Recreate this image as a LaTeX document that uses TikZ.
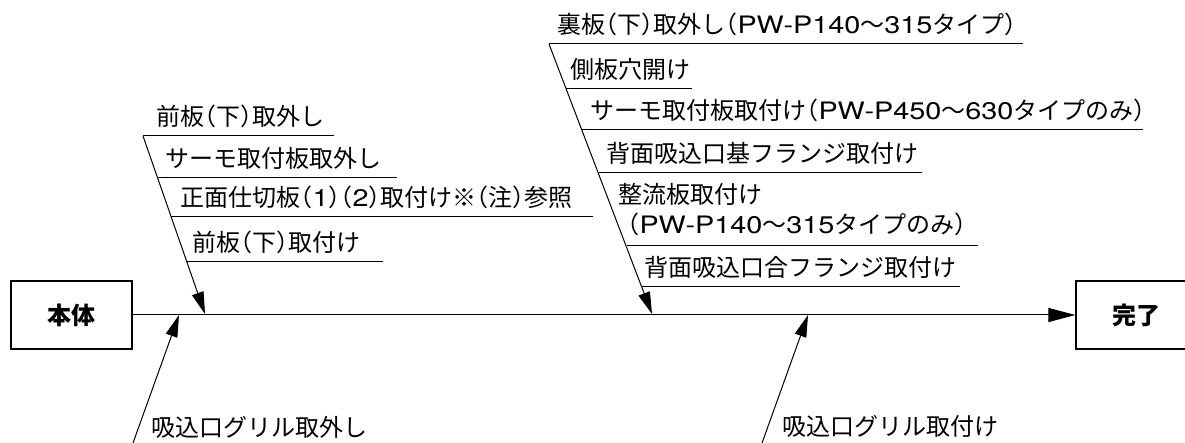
\documentclass[tikz,border=0pt]{standalone}
\usepackage{fontspec}
\setmainfont{Noto Sans CJK JP}[RawFeature=+halt]
\newfontfamily\latfont{TeX Gyre Heros}[FakeStretch=1.2]
\newcommand\lat[1]{{\latfont #1}}
\usetikzlibrary{arrows.meta}

\begin{document}
\begin{tikzpicture}[x=1pt, y=-1pt, line width=1pt,
    steptext/.style={anchor=base west, inner sep=0pt, font=\fontsize{24}{29}\selectfont},
    endbox/.style={draw, line width=1.2pt, minimum width=121pt, minimum height=68pt, inner sep=0pt, font=\fontsize{24}{29}\selectfont\bfseries},
    feed/.style={-{Triangle[length=22pt,width=12pt]}}]
    \useasboundingbox (0,0) rectangle (1185,443);
    % Start and end
    \node[endbox] (body) at (71.5,315) {本体};
    \node[endbox] (done) at (1136.5,315) {完了};
    \draw[-{Triangle[length=27pt,width=14pt]}] (body) -- (done);

    % Front work (above)
    \coordinate (front top) at (143,136);
    \coordinate (front tip) at (205,314);
    \draw[feed] (front top) -- (front tip);
    \draw (143,136) -- (334,136);
    \draw (158,178) -- (397,178);
    \draw (171,217) -- (593,217);
    \draw (187,262) -- (383,262);
    \node[steptext] (front1) at (156,126) {前板（下）取外し};
    \node[steptext] (front2) at (165,168) {サーモ取付板取外し};
    \node[steptext] (front3) at (180,207) {正面仕切板（\lat{1}）（\lat{2}）取付け※（注）参照};
    \node[steptext] (front4) at (192,252) {前板（下）取付け};

    % Back work (above)
    \coordinate (back top) at (549,44);
    \coordinate (back tip) at (652,314);
    \draw[feed] (back top) -- (back tip);
    \draw (549,44) -- (1023,44);
    \draw (566,89) -- (692,89);
    \draw (582,130) -- (1143,130);
    \draw (599,173) -- (922,173);
    \draw (627,246) -- (978,246);
    \draw (642,287) -- (960,287);
    \node[steptext] (back1) at (557,34) {裏板（下）取外し（\lat{PW-P140}～\lat{315}タイプ）};
    \node[steptext] (back2) at (570,79) {側板穴開け};
    \node[steptext] (back3) at (590,120) {サーモ取付板取付け（\lat{PW-P450}～\lat{630}タイプのみ）};
    \node[steptext] (back4) at (606,163) {背面吸込口基フランジ取付け};
    \node[steptext] (back5) at (618,204) {整流板取付け};
    \node[steptext] (back5b) at (627,234) {（\lat{PW-P140}～\lat{315}タイプのみ）};
    \node[steptext] (back6) at (644,277) {背面吸込口合フランジ取付け};

    % Grille (below)
    \coordinate (grille off) at (133,443);
    \coordinate (grille off tip) at (179,315);
    \draw[feed] (grille off) -- (grille off tip);
    \node[steptext] (grille1) at (151,436) {吸込口グリル取外し};
    \coordinate (grille on) at (762,443);
    \coordinate (grille on tip) at (808,315);
    \draw[feed] (grille on) -- (grille on tip);
    \node[steptext] (grille2) at (782,435) {吸込口グリル取付け};
\end{tikzpicture}
\end{document}
